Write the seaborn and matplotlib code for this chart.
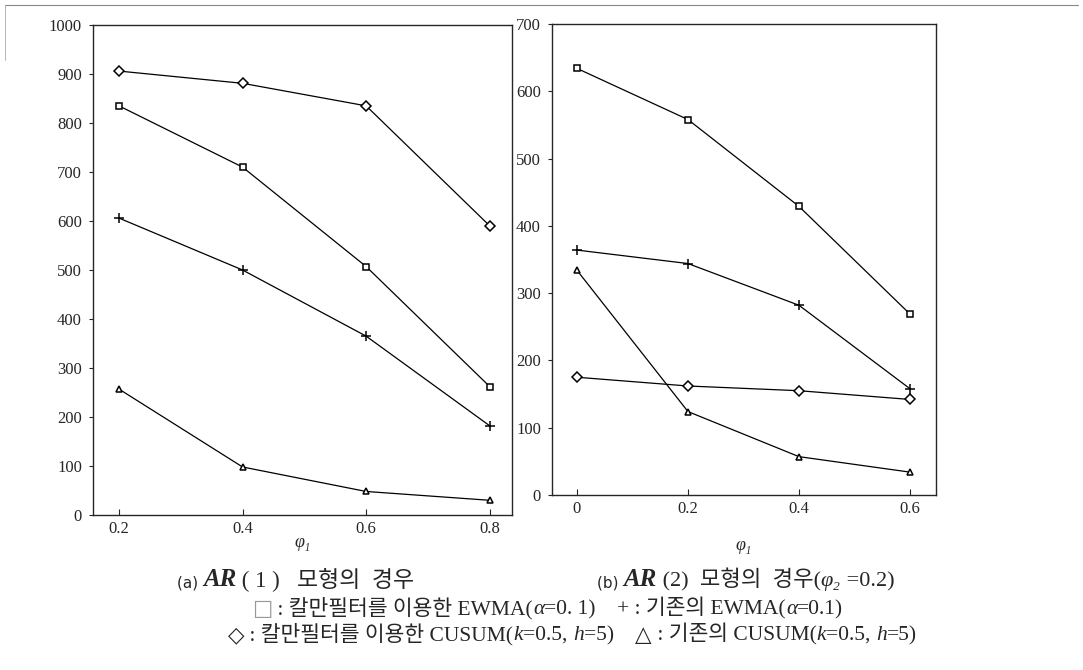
import numpy as np
import pandas as pd
import seaborn as sns
import matplotlib.pyplot as plt

# ---- data ----
phi_ar1 = [0.2, 0.4, 0.6, 0.8]
kalman_ewma_ar1 = [835, 710, 507, 262]
ewma_ar1 = [606, 500, 365, 182]
kalman_cusum_ar1 = [906, 881, 835, 590]
cusum_ar1 = [257, 98, 48, 30]

phi_ar2 = [0.0, 0.2, 0.4, 0.6]
kalman_ewma_ar2 = [634, 558, 429, 269]
ewma_ar2 = [364, 344, 282, 158]
kalman_cusum_ar2 = [175, 162, 155, 142]
cusum_ar2 = [334, 124, 57, 34]

methods = ['kalman_ewma', 'ewma', 'kalman_cusum', 'cusum']
marker_map = {'kalman_ewma': 's', 'ewma': '+', 'kalman_cusum': 'D', 'cusum': '^'}


def make_df(phi, series):
    rows = []
    for m, vals in zip(methods, series):
        for p, v in zip(phi, vals):
            rows.append({'phi': p, 'arl': v, 'method': m})
    return pd.DataFrame(rows)


df1 = make_df(phi_ar1, [kalman_ewma_ar1, ewma_ar1, kalman_cusum_ar1, cusum_ar1])
df2 = make_df(phi_ar2, [kalman_ewma_ar2, ewma_ar2, kalman_cusum_ar2, cusum_ar2])

sns.set_style('ticks')
plt.rcParams['font.family'] = ['Liberation Serif', 'Noto Sans CJK KR', 'DejaVu Sans']

W, H = 1083, 670
fig = plt.figure(figsize=(W / 100, H / 100), dpi=100)


def px_axes(x0, x1, y0, y1):
    return fig.add_axes([x0 / W, 1 - y1 / H, (x1 - x0) / W, (y1 - y0) / H])


ax1 = px_axes(93, 512, 25, 515)
ax2 = px_axes(552, 936, 24, 495)

for ax, df in [(ax1, df1), (ax2, df2)]:
    for m in methods:
        sub = df[df['method'] == m]
        sns.lineplot(data=sub, x='phi', y='arl', ax=ax, color='black',
                     marker=marker_map[m], linewidth=0.9,
                     markersize=7 if m == 'ewma' else 5,
                     mfc='white', mec='black', mew=1.1)
    ax.set_ylabel('')
    ax.tick_params(axis='x', direction='in', length=4, labelsize=12, pad=4)
    ax.tick_params(axis='y', direction='out', length=3, labelsize=12, pad=5)
    for s in ax.spines.values():
        s.set_linewidth(1.0)

ax1.set_xlabel('φ₁', fontsize=13, style='italic', labelpad=-2)
ax2.set_xlabel('φ₁', fontsize=13, style='italic', labelpad=15)

ax1.set_xlim(0.158, 0.836)
ax1.set_ylim(0, 1000)
ax1.set_xticks(phi_ar1)
ax1.set_xticklabels(['0.2', '0.4', '0.6', '0.8'])
ax1.set_yticks(np.arange(0, 1001, 100))

ax2.set_xlim(-0.045, 0.647)
ax2.set_ylim(0, 700)
ax2.set_xticks(phi_ar2)
ax2.set_xticklabels(['0', '0.2', '0.4', '0.6'])
ax2.set_yticks(np.arange(0, 701, 100))


def rich_line(x, y, parts, size=15.5):
    # chain text pieces left to right so italic bits can sit inline
    first, kw = parts[0]
    kw = dict(kw)
    prev = fig.text(x / W, 1 - y / H, first, fontsize=kw.pop('size', size),
                    va='bottom', ha='left', **kw)
    for txt, kw in parts[1:]:
        kw = dict(kw)
        prev = ax1.annotate(txt, xy=(1, 0), xycoords=prev, va='bottom',
                            ha='left', fontsize=kw.pop('size', size),
                            annotation_clip=False, **kw)


it = {'style': 'italic'}
rich_line(177, 591, [('(a) ', {'family': 'DejaVu Sans', 'size': 11}),
                     ('AR', {'style': 'italic', 'weight': 'bold', 'size': 18}),
                     (' ( 1 )   모형의  경우', {'size': 16.5})])
rich_line(597, 591, [('(b) ', {'family': 'DejaVu Sans', 'size': 11}),
                     ('AR', {'style': 'italic', 'weight': 'bold', 'size': 18}),
                     (' (2)  모형의  경우(', {'size': 16}),
                     ('φ₂', {'style': 'italic', 'size': 16}),
                     (' =0.2)', {'size': 16})])
rich_line(252, 619, [('□', {'family': 'DejaVu Sans', 'color': '#999999'}),
                     (' : 칼만필터를 이용한 EWMA(', {}), ('α', it),
                     ('=0. 1)    + : 기존의 EWMA(', {}), ('α', it), ('=0.1)', {})])
rich_line(228, 645, [('◇', {'family': 'DejaVu Sans'}),
                     (' : 칼만필터를 이용한 CUSUM(', {}), ('k', it), ('=0.5, ', {}),
                     ('h', it), ('=5)    ', {}), ('△', {'family': 'DejaVu Sans'}),
                     (' : 기존의 CUSUM(', {}), ('k', it), ('=0.5, ', {}),
                     ('h', it), ('=5)', {})])

# faint scan frame at the top / left edge
fig.add_artist(plt.Line2D([5 / W, 1078 / W], [1 - 5 / H, 1 - 5 / H],
                          color='#888888', lw=0.8))
fig.add_artist(plt.Line2D([5 / W, 5 / W], [1 - 5 / H, 1 - 60 / H],
                          color='#aaaaaa', lw=0.6))

fig.savefig('out.png', dpi=100)
